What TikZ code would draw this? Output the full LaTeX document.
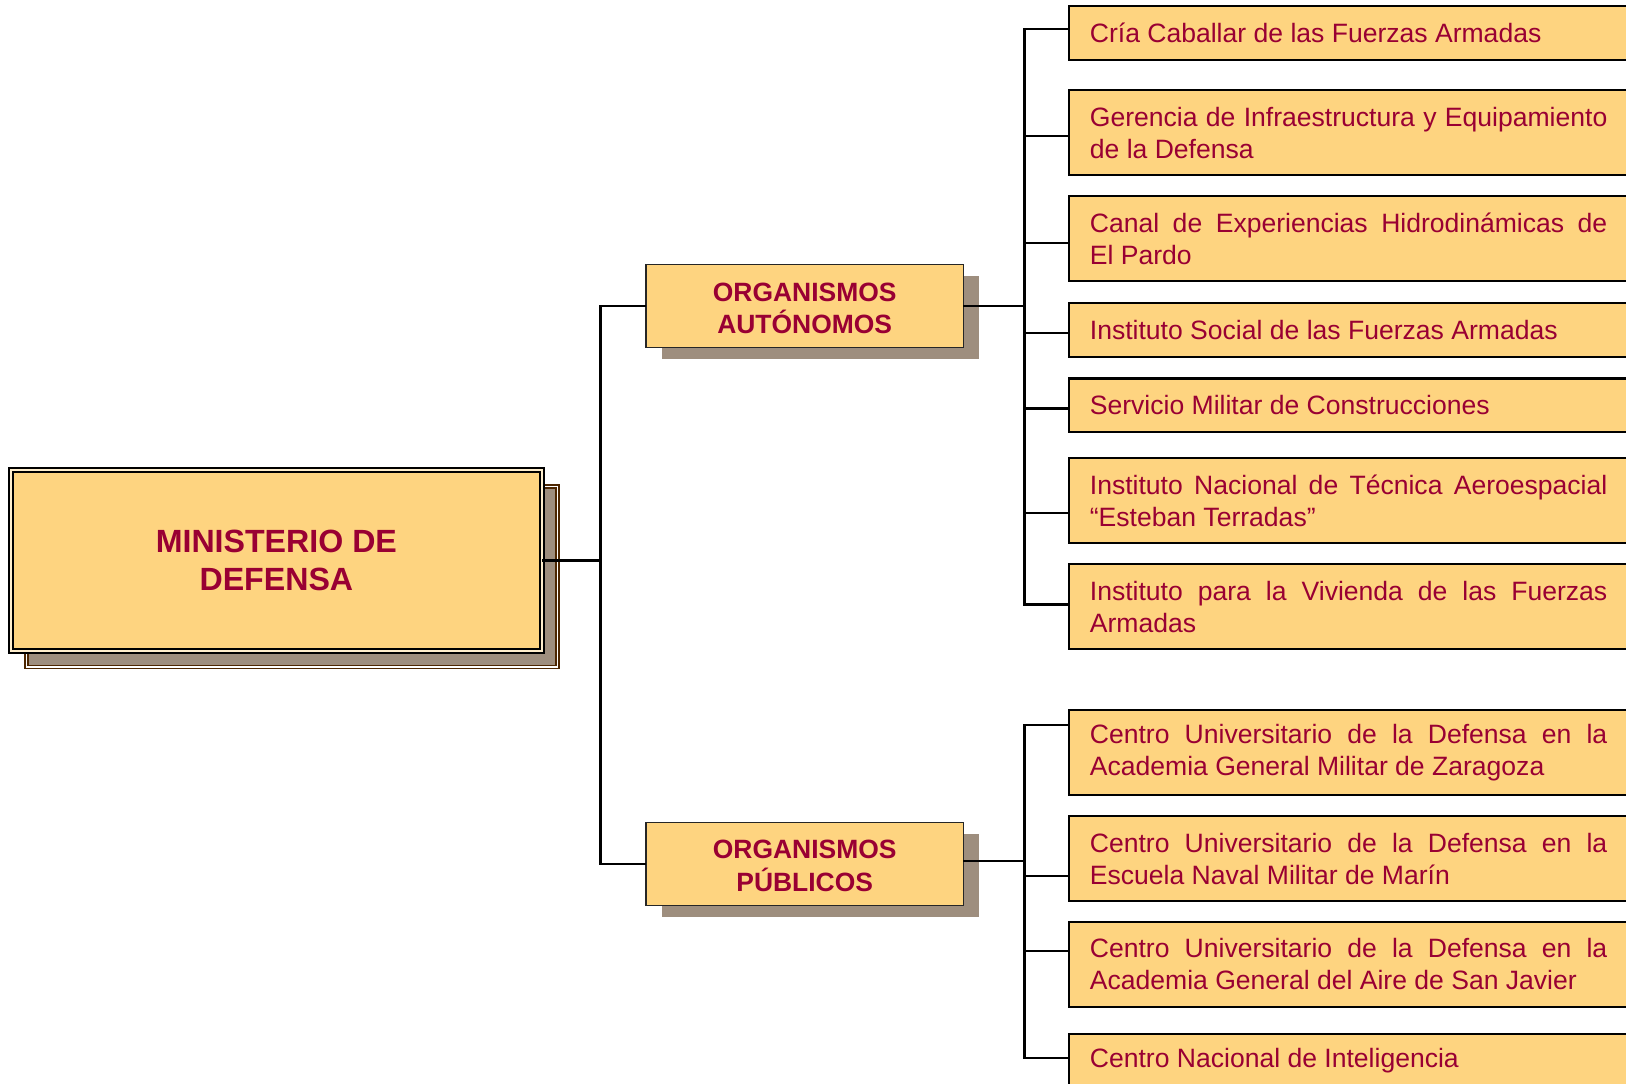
\documentclass[tikz,border=0pt]{standalone}
\usepackage{fontspec}
\setmainfont{Liberation Sans}
\usetikzlibrary{shadows}
\definecolor{boxfill}{RGB}{254,212,128}
\definecolor{txt}{RGB}{153,0,51}
\definecolor{shade}{RGB}{158,142,126}
\definecolor{brownline}{RGB}{77,38,0}
\begin{document}
\begin{tikzpicture}[x=1pt,y=-1pt,
  conn/.style={draw=black,line width=2.1pt},
  mainbox/.style={draw=black,double=boxfill!40!white,double distance=1.8pt,line width=1.8pt,
    fill=boxfill,text=txt,font=\fontsize{31}{36.5}\selectfont\bfseries,align=center,
    minimum width=512pt,minimum height=174pt,inner sep=0pt,outer sep=0pt,
    general shadow={shadow xshift=15pt,shadow yshift=-15.5pt,fill=shade,draw=brownline,
      double=white,double distance=1.4pt,line width=1.4pt}},
  orgbox/.style={draw=black!85,line width=1.4pt,fill=boxfill,text=txt,
    font=\fontsize{25.5}{31}\selectfont\bfseries,align=center,
    minimum width=306pt,minimum height=80pt,inner sep=0pt,outer sep=0pt,
    general shadow={shadow xshift=15.5pt,shadow yshift=-11.5pt,fill=shade}},
  rbox/.style={draw=black,line width=2pt,fill=boxfill,text=txt,
    font=\fontsize{25.6}{30.7}\selectfont,text width=499pt,align=justify,
    inner xsep=20pt,inner ysep=0pt,outer sep=0pt,anchor=west},
  one/.style={minimum height=52pt},
  two/.style={minimum height=82pt}]
\fill[white] (0,0) rectangle (1568,1045);
\clip (0,0) rectangle (1568,1045);

% main
\node[mainbox] (min) at (266.5,540.5) {MINISTERIO DE\\DEFENSA};
\node[orgbox] (oa) at (776,295) {\raisebox{-2pt}[\height][\depth]{\parbox{306pt}{\centering ORGANISMOS\\AUTÓNOMOS}}};
\node[orgbox] (op) at (776,833) {\raisebox{-2pt}[\height][\depth]{\parbox{306pt}{\centering ORGANISMOS\\PÚBLICOS}}};

% right boxes
\node[rbox,one] (b1) at (1031,32) {Cría Caballar de las Fuerzas Armadas};
\node[rbox,two] (b2) at (1031,128) {Gerencia de Infraestructura y Equipamiento\linebreak de la Defensa};
\node[rbox,two] (b3) at (1031,230) {Canal de Experiencias Hidrodinámicas de\linebreak El Pardo};
\node[rbox,one] (b4) at (1031,318) {Instituto Social de las Fuerzas Armadas};
\node[rbox,one] (b5) at (1031,391) {Servicio Militar de Construcciones};
\node[rbox,two] (b6) at (1031,483) {Instituto Nacional de Técnica Aeroespacial\linebreak “Esteban Terradas”};
\node[rbox,two] (b7) at (1031,585) {Instituto para la Vivienda de las Fuerzas\linebreak Armadas};
\node[rbox,two] (b8) at (1031,726) {Centro Universitario de la Defensa en la\linebreak Academia General Militar de Zaragoza};
\node[rbox,two] (b9) at (1031,828) {Centro Universitario de la Defensa en la\linebreak Escuela Naval Militar de Marín};
\node[rbox,two] (b10) at (1031,930) {Centro Universitario de la Defensa en la\linebreak Academia General del Aire de San Javier};
\node[rbox,one] (b11) at (1031,1023) {Centro Nacional de Inteligencia};

% connectors: main to organisms
\coordinate (j0) at (579,540.5);
\draw[conn] (min.east) -- (j0);
\draw[conn] (oa.west) -| (j0);
\draw[conn] (op.west) -| (j0);

% upper bus
\coordinate (ja) at (988,295);
\draw[conn] (oa.east) -- (ja);
\draw[conn] (b1.west |- 0,28) -| (ja);
\draw[conn] (b2.west |- 0,131) -| (ja);
\draw[conn] (b3.west |- 0,234) -| (ja);
\draw[conn] (b4.west |- 0,321) -| (ja);
\draw[conn] (b5.west |- 0,394) -| (ja);
\draw[conn] (b6.west |- 0,495) -| (ja);
\draw[conn] (b7.west |- 0,583) -| (ja);

% lower bus
\coordinate (jb) at (988,830);
\draw[conn] (op.east |- 0,830) -- (jb);
\draw[conn] (b8.west |- 0,699) -| (jb);
\draw[conn] (b9.west |- 0,845) -| (jb);
\draw[conn] (b10.west |- 0,917) -| (jb);
\draw[conn] (b11.west |- 0,1020) -| (jb);
\end{tikzpicture}
\end{document}
